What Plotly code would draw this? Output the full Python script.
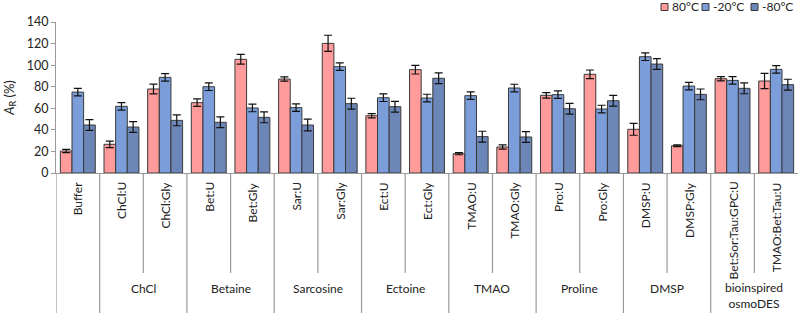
import plotly.graph_objects as go

categories = ["Buffer", "ChCl:U", "ChCl:Gly", "Bet:U", "Bet:Gly", "Sar:U", "Sar:Gly",
              "Ect:U", "Ect:Gly", "TMAO:U", "TMAO:Gly", "Pro:U", "Pro:Gly",
              "DMSP:U", "DMSP:Gly", "Bet:Sor:Tau:GPC:U", "TMAO:Bet:Tau:U"]
groups = ["ChCl", "Betaine", "Sarcosine", "Ectoine", "TMAO", "Proline", "DMSP",
          "bioinspired<br>osmoDES"]
group_spans = [(1, 2), (3, 4), (5, 6), (7, 8), (9, 10), (11, 12), (13, 14), (15, 16)]
series_names = ["80°C", "-20°C", "-80°C"]

v80 = [20.4, 26.6, 77.9, 65.2, 105.4, 87.1, 120.2, 53.1, 95.8, 17.9, 24.1, 72.0, 91.5,
       40.5, 25.3, 87.4, 85.3]
e80 = [1.5, 3.0, 4.5, 3.5, 4.5, 2.0, 7.5, 2.0, 4.0, 1.0, 2.0, 2.5, 4.0, 5.5, 0.8, 2.0, 7.0]
v20 = [75.0, 61.8, 88.7, 80.0, 60.3, 60.6, 98.6, 69.8, 69.5, 71.7, 78.8, 72.6, 59.3,
       107.8, 80.6, 85.9, 96.1]
e20 = [3.5] * 17
vm80 = [44.5, 42.6, 48.8, 47.0, 51.6, 44.5, 64.3, 61.5, 87.8, 33.7, 33.4, 59.6, 67.0,
        101.0, 72.9, 78.5, 81.9]
em80 = [5.0, 5.0, 5.0, 5.0, 5.0, 5.5, 5.0, 5.0, 5.0, 5.0, 5.0, 5.0, 5.0, 5.0, 5.0, 5.0, 5.0]

colors = ["#FF9B9B", "#7B9EDB", "#6D86B8"]
FONT = "Lato"

# plot area pixel geometry
L, R_EDGE, TOP, BOT = 56, 798, 22, 173
W, H = 800, 313
PW, PH = R_EDGE - L, BOT - TOP

x = list(range(len(categories)))
fig = go.Figure()
for name, vals, errs, col in zip(series_names, [v80, v20, vm80], [e80, e20, em80], colors):
    fig.add_trace(go.Bar(
        x=x, y=vals, name=name,
        marker=dict(color=col, line=dict(color="#3a3a3a", width=1)),
        error_y=dict(type="data", array=errs, color="#111", thickness=1.2, width=4),
        showlegend=False,
    ))

shapes = []
annotations = []
# category dividers
full_bounds = [-0.5, 0.5] + [g[1] + 0.5 for g in group_spans]
inner_bounds = [g[0] + 0.5 for g in group_spans]
y_full = -(H - BOT) / PH
y_inner = -(273 - BOT) / PH
for b in full_bounds:
    if b >= len(categories) - 0.5:
        continue
    shapes.append(dict(type="line", xref="x", yref="paper", x0=b, x1=b, y0=0, y1=y_full,
                       line=dict(color="#9a9a9a", width=1.2)))
for b in inner_bounds:
    shapes.append(dict(type="line", xref="x", yref="paper", x0=b, x1=b, y0=0, y1=y_inner,
                       line=dict(color="#9a9a9a", width=1.2)))

for i, c in enumerate(categories):
    annotations.append(dict(x=i, y=0, xref="x", yref="paper", text=c, textangle=-90,
                            showarrow=False, xanchor="center", yanchor="top", yshift=-7,
                            font=dict(family=FONT, size=12, color="#222")))
for g, (a, b) in zip(groups, group_spans):
    yc = -(295 - BOT) / PH if "<br>" in g else -(288 - BOT) / PH
    annotations.append(dict(x=(a + b) / 2, y=yc, xref="x", yref="paper", text=g,
                            showarrow=False, xanchor="center", yanchor="middle",
                            font=dict(family=FONT, size=12, color="#222")))

# legend (drawn)
leg_sq = [661, 702, 751]
leg_y = 7
for px, name, col in zip(leg_sq, series_names, colors):
    shapes.append(dict(type="rect", xref="paper", yref="paper",
                       x0=(px - L) / PW, x1=(px + 7 - L) / PW,
                       y0=(BOT - (leg_y + 3.5)) / PH, y1=(BOT - (leg_y - 3.5)) / PH,
                       fillcolor=col, line=dict(color="#3a3a3a", width=1)))
    annotations.append(dict(x=(px + 9 - L) / PW, y=(BOT - leg_y) / PH, xref="paper", yref="paper",
                            text=name, showarrow=False, xanchor="left", yanchor="middle",
                            font=dict(family=FONT, size=12, color="#222")))

fig.update_layout(
    width=W, height=H,
    margin=dict(l=L, r=W - R_EDGE, t=TOP, b=H - BOT),
    plot_bgcolor="white", paper_bgcolor="white",
    barmode="group", bargap=0.2, bargroupgap=0,
    font=dict(family=FONT, size=12, color="#222"),
    shapes=shapes, annotations=annotations,
    xaxis=dict(range=[-0.5, len(categories) - 0.5], showticklabels=False, ticks="",
               showline=True, linecolor="#9a9a9a", linewidth=1.2, showgrid=False,
               zeroline=False, fixedrange=True),
    yaxis=dict(range=[0, 140], dtick=20, ticks="outside", ticklen=4, tickcolor="#9a9a9a",
               showline=True, linecolor="#9a9a9a", linewidth=1.2, showgrid=False,
               zeroline=False, tickfont=dict(family=FONT, size=12.5, color="#222"),
               title=dict(text="<i>A</i><sub>R</sub> (%)", standoff=9,
                          font=dict(family=FONT, size=13, color="#222"))),
)

fig.write_html("out.html", config={"displayModeBar": False},
               post_script="document.body.style.margin='0';document.body.style.overflow='hidden';")
